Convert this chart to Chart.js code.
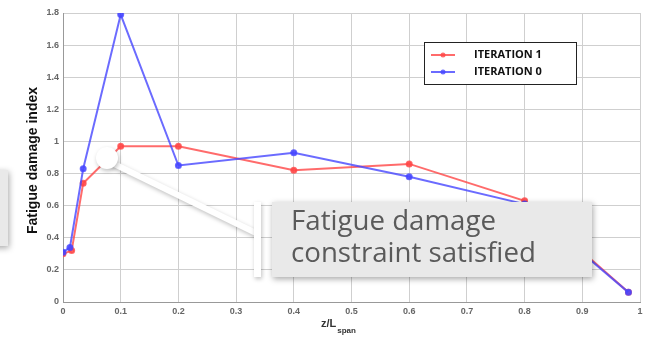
<!DOCTYPE html>
<html>
<head>
<meta charset="utf-8">
<script src="https://cdn.jsdelivr.net/npm/chart.js@4.4.0/dist/chart.umd.min.js"></script>
<style>
html,body{margin:0;padding:0;background:#fff;}
#wrap{width:648px;height:338px;position:relative;}
</style>
</head>
<body>
<div id="wrap"><canvas id="c" width="648" height="338"></canvas></div>
<script>
// Data
const xIter1 = [0, 0.015, 0.035, 0.1, 0.2, 0.4, 0.6, 0.8, 0.98];
const yIter1 = [0.30, 0.32, 0.74, 0.97, 0.97, 0.82, 0.86, 0.63, 0.06];
const xIter0 = [0, 0.012, 0.035, 0.1, 0.2, 0.4, 0.6, 0.8, 0.98];
const yIter0 = [0.31, 0.34, 0.83, 1.79, 0.85, 0.93, 0.78, 0.61, 0.06];
const seriesNames = ['ITERATION 1', 'ITERATION 0'];
const xTicks = [0, 0.1, 0.2, 0.3, 0.4, 0.5, 0.6, 0.7, 0.8, 0.9, 1];
const yTicks = [0, 0.2, 0.4, 0.6, 0.8, 1, 1.2, 1.4, 1.6, 1.8];
const yTitle = 'Fatigue damage index';
const xTitleMain = 'z/L';
const xTitleSub = 'span';
const calloutLines = ['Fatigue damage', 'constraint satisfied'];

const red = 'rgba(255,70,70,0.8)';
const blue = 'rgba(70,70,255,0.8)';

function pts(xs, ys){ return xs.map((x,i)=>({x:x, y:ys[i]})); }

const overlay = {
  id:'overlay',
  afterDraw(chart){
    const ctx = chart.ctx;
    const ca = chart.chartArea;
    ctx.save();
    // y title
    ctx.save();
    ctx.translate(33, (ca.top+ca.bottom)/2+3);
    ctx.rotate(-Math.PI/2);
    ctx.fillStyle='#111';
    ctx.font='bold 14px "Liberation Sans", Arial, sans-serif';
    ctx.textAlign='center'; ctx.textBaseline='middle';
    ctx.fillText(yTitle,0,0);
    ctx.restore();
    // left partial box
    ctx.shadowColor='rgba(0,0,0,0.35)'; ctx.shadowBlur=6; ctx.shadowOffsetX=1; ctx.shadowOffsetY=2;
    ctx.fillStyle='#e9e9e9';
    ctx.fillRect(-10,170,18,76);
    // callout connector
    ctx.shadowColor='rgba(0,0,0,0.25)'; ctx.shadowBlur=4;
    ctx.strokeStyle='#ffffff'; ctx.lineWidth=6; ctx.lineCap='butt';
    ctx.beginPath(); ctx.moveTo(110,162); ctx.lineTo(256,233); ctx.stroke();
    ctx.fillStyle='#ffffff';
    ctx.beginPath(); ctx.arc(107,158,11,0,Math.PI*2); ctx.fill();
    ctx.fillRect(254,202,7,75);
    // box
    ctx.shadowColor='rgba(0,0,0,0.35)'; ctx.shadowBlur=6;
    ctx.fillStyle='#e9e9e9';
    ctx.fillRect(272,202,320,75);
    ctx.shadowColor='transparent';
    // text
    ctx.fillStyle='#5a5a5a';
    let fs = 24;
    ctx.font = fs+'px "Open Sans", sans-serif';
    const w = ctx.measureText(calloutLines[1]).width;
    fs = fs*245/w;
    ctx.font = fs.toFixed(2)+'px "Open Sans", sans-serif';
    ctx.textBaseline='alphabetic'; ctx.textAlign='left';
    ctx.fillText(calloutLines[0], 291, 230);
    ctx.fillText(calloutLines[1], 291, 262);
    // x title
    ctx.fillStyle='#333';
    ctx.font='bold 11px "Liberation Sans", Arial, sans-serif';
    const mw = ctx.measureText(xTitleMain).width;
    ctx.fillText(xTitleMain, 321, 327);
    ctx.font='bold 8px "Liberation Sans", Arial, sans-serif';
    ctx.fillText(xTitleSub, 321+mw+1, 333);
    // legend
    const lx=424, ly=42, lw=152, lh=42;
    ctx.fillStyle='#fff'; ctx.fillRect(lx,ly,lw,lh);
    ctx.strokeStyle='#222'; ctx.lineWidth=1;
    ctx.strokeRect(lx+0.5,ly+0.5,lw,lh);
    const cols=[red,blue];
    seriesNames.forEach((n,i)=>{
      const yy = ly+13+i*17;
      ctx.strokeStyle=cols[i]; ctx.lineWidth=2;
      ctx.beginPath(); ctx.moveTo(lx+7,yy); ctx.lineTo(lx+31,yy); ctx.stroke();
      ctx.fillStyle=cols[i];
      ctx.beginPath(); ctx.arc(lx+19,yy,2.5,0,Math.PI*2); ctx.fill();
      ctx.fillStyle='#111';
      ctx.font='bold 11px "Open Sans", sans-serif';
      ctx.textBaseline='middle';
      ctx.fillText(n, lx+50, yy);
    });
    ctx.restore();
  }
};

new Chart(document.getElementById('c'), {
  type:'line',
  data:{
    datasets:[
      {label:seriesNames[1], data:pts(xIter0,yIter0), borderColor:blue, backgroundColor:blue, borderWidth:2, pointRadius:2.5, pointHoverRadius:2.5, tension:0},
      {label:seriesNames[0], data:pts(xIter1,yIter1), borderColor:red, backgroundColor:red, borderWidth:2, pointRadius:2.5, pointHoverRadius:2.5, tension:0}
    ]
  },
  options:{
    responsive:false, animation:false,
    layout:{padding:{left:0,right:8,top:13,bottom:0}},
    plugins:{legend:{display:false}, tooltip:{enabled:false}},
    scales:{
      x:{type:'linear', min:0, max:1,
        afterBuildTicks(s){ s.ticks = xTicks.map(v=>({value:v})); },
        afterFit(s){ s.height = 36; },
        grid:{color:'#cfcfcf', lineWidth:1, drawTicks:false},
        border:{color:'#999', width:1},
        ticks:{color:'#666', font:{size:9, weight:'bold', family:'"Liberation Sans", Arial'}, padding:4, maxRotation:0,
          callback:(v)=>String(v)}
      },
      y:{type:'linear', min:0, max:1.8,
        afterBuildTicks(s){ s.ticks = yTicks.map(v=>({value:v})); },
        afterFit(s){ s.width = 63; },
        grid:{color:'#cfcfcf', lineWidth:1, drawTicks:false},
        border:{color:'#999', width:1},
        ticks:{color:'#666', font:{size:9, weight:'bold', family:'"Liberation Sans", Arial'}, padding:4,
          callback:(v)=>String(Math.round(v*10)/10)}
      }
    }
  },
  plugins:[overlay]
});
</script>
</body>
</html>
